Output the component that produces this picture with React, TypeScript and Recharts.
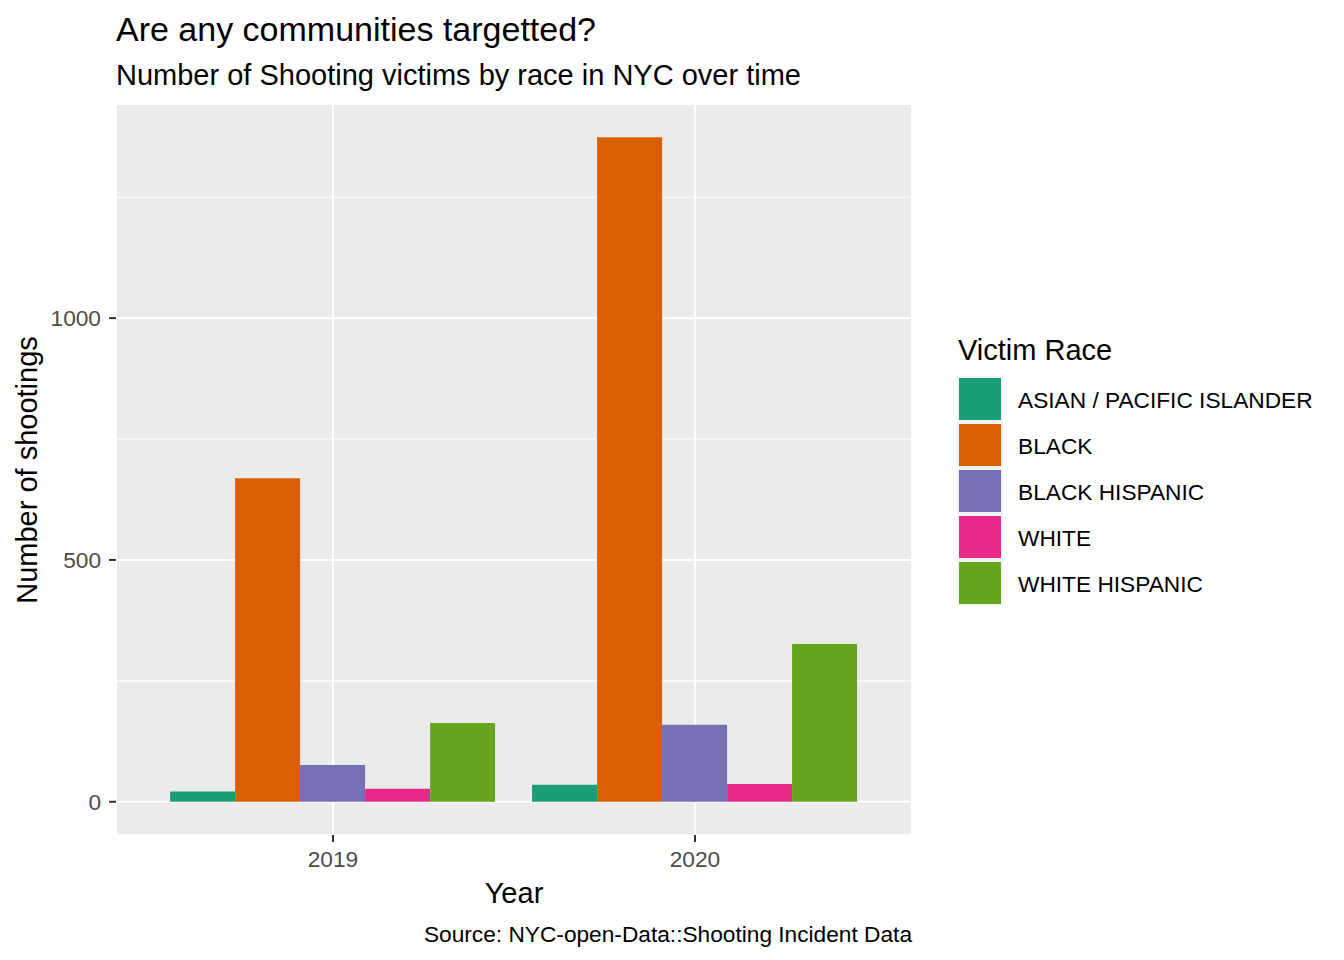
import { BarChart, Bar, XAxis, YAxis, CartesianGrid, Legend } from 'recharts';

const years = ['2019', '2020'];
const races = ['ASIAN / PACIFIC ISLANDER', 'BLACK', 'BLACK HISPANIC', 'WHITE', 'WHITE HISPANIC'];
const asianPacific = [21, 35];
const black = [669, 1374];
const blackHispanic = [76, 159];
const white = [27, 37];
const whiteHispanic = [163, 326];
const raceColors = ['#1B9E77', '#D95F02', '#7570B3', '#E7298A', '#66A61E'];
const majorTicks = [0, 500, 1000];
const minorTicks = [250, 750, 1250];

const FONT = '"Liberation Sans", Arial, sans-serif';
const seriesKeys = ['s0', 's1', 's2', 's3', 's4'];
const seriesValues = [asianPacific, black, blackHispanic, white, whiteHispanic];

// one row per year, one column per race
const chartData = years.map((year, i) => {
  const row: Record<string, string | number> = { year };
  seriesKeys.forEach((k, j) => {
    row[k] = seriesValues[j][i];
  });
  return row;
});

function RaceLegend({ payload }: any) {
  const items = payload ?? [];
  return (
    <svg width={400} height={300} style={{ display: 'block', fontFamily: FONT }}>
      <text x={18} y={39.5} fontSize={29} fill="#000000">Victim Race</text>
      {items.map((p: any, i: number) => (
        <g key={p.value}>
          <rect x={17} y={56 + 46 * i} width={46} height={46} fill="#F2F2F2" />
          <rect x={19} y={58 + 46 * i} width={42} height={42} fill={p.color} />
          <text x={78} y={88 + 46 * i} fontSize={22.7} fill="#000000">{p.value}</text>
        </g>
      ))}
    </svg>
  );
}

export default function App() {
  const tickStyle = { fill: '#4D4D4D', fontSize: 22.7, fontFamily: FONT };
  return (
    <div style={{ position: 'absolute', left: 0, top: 0, width: 1344, height: 960, background: '#fff', fontFamily: FONT }}>
      <BarChart
        width={1344}
        height={960}
        data={chartData}
        margin={{ top: 104, right: 432, bottom: 85, left: 0 }}
        barGap={0}
        barCategoryGap="5%"
      >
        <CartesianGrid fill="#EBEBEB" stroke="#FFFFFF" strokeWidth={2.1} />
        <CartesianGrid
          fill="none"
          stroke="#FFFFFF"
          strokeWidth={1.05}
          vertical={false}
          horizontalValues={minorTicks}
        />
        <XAxis
          dataKey="year"
          type="category"
          height={40}
          padding={{ left: 36, right: 36 }}
          axisLine={false}
          tickLine={{ stroke: '#333333', strokeWidth: 2 }}
          tickSize={7}
          tickMargin={9}
          tick={tickStyle}
        />
        <YAxis
          type="number"
          width={116}
          domain={[-68.7, 1442.7]}
          allowDataOverflow
          ticks={majorTicks}
          axisLine={false}
          tickLine={{ stroke: '#333333', strokeWidth: 2 }}
          tickSize={7}
          tickMargin={8}
          tick={tickStyle}
        />
        <Legend
          layout="horizontal"
          align="center"
          verticalAlign="middle"
          content={<RaceLegend />}
          wrapperStyle={{ position: 'absolute', left: 940, top: 320, width: 400, height: 300 }}
        />
        {seriesKeys.map((k, j) => (
          <Bar key={k} dataKey={k} name={races[j]} fill={raceColors[j]} isAnimationActive={false} />
        ))}
      </BarChart>

      <svg
        width={1344}
        height={960}
        style={{ position: 'absolute', left: 0, top: 0, pointerEvents: 'none', fontFamily: FONT }}
      >
        <text x={116} y={41} fontSize={34} fill="#000000">Are any communities targetted?</text>
        <text x={116} y={84.5} fontSize={29} fill="#000000">Number of Shooting victims by race in NYC over time</text>
        <text x={514} y={903} fontSize={29} fill="#000000" textAnchor="middle">Year</text>
        <text
          x={37}
          y={470}
          fontSize={29}
          fill="#000000"
          textAnchor="middle"
          transform="rotate(-90, 37, 470)"
        >
          Number of shootings
        </text>
        <text x={912} y={942} fontSize={22.7} fill="#000000" textAnchor="end">
          Source: NYC-open-Data::Shooting Incident Data
        </text>
      </svg>
    </div>
  );
}
